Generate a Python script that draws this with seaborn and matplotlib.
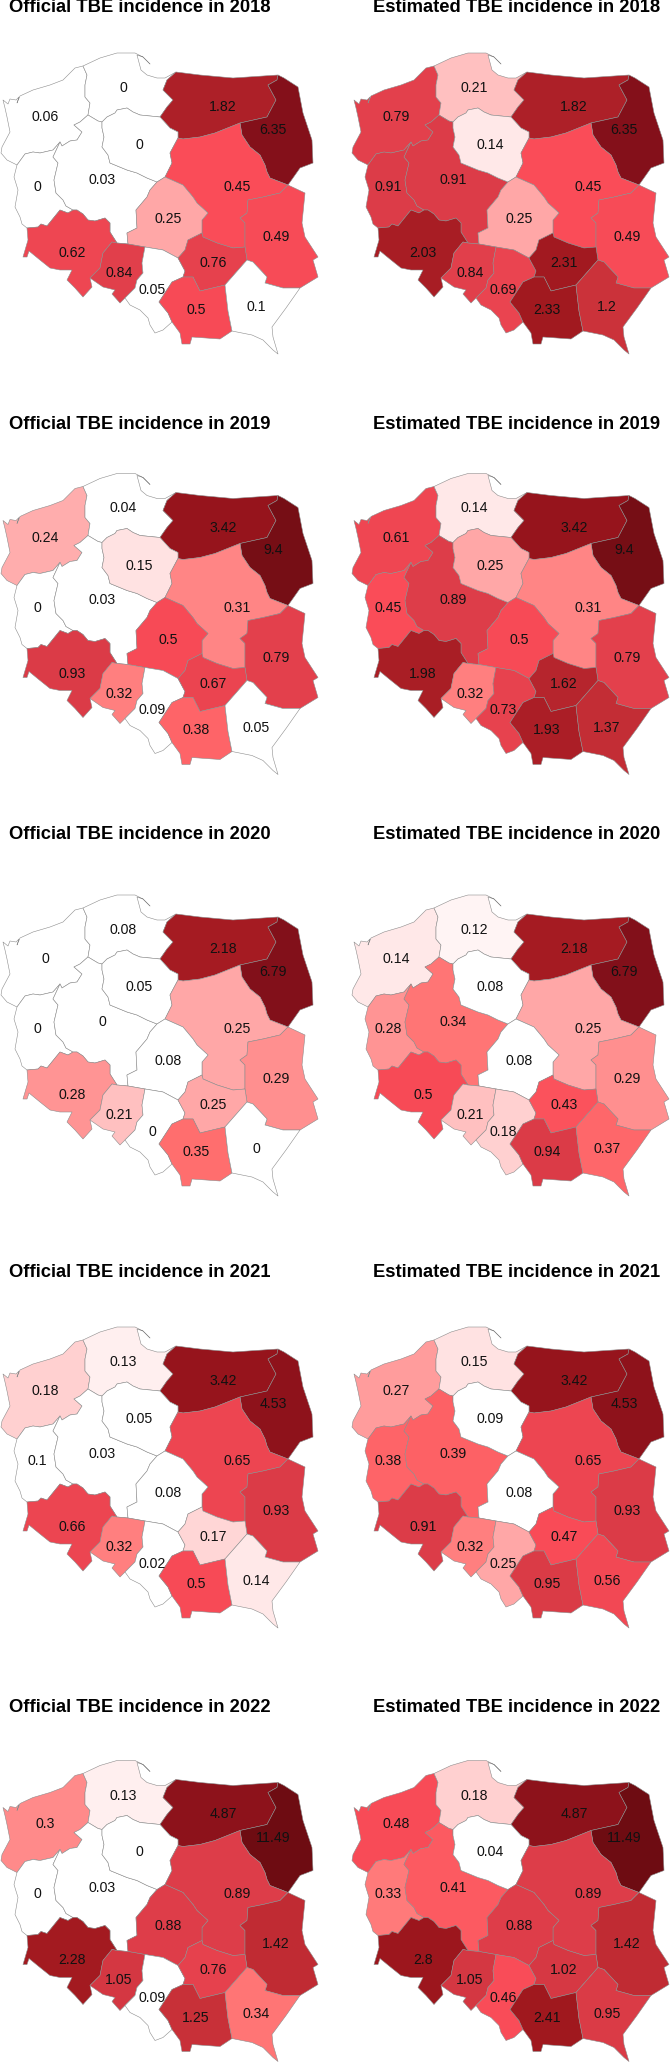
import matplotlib
matplotlib.use('Agg')
import matplotlib.pyplot as plt
from matplotlib.patches import Polygon
import numpy as np
import seaborn as sns

sns.set_style('white')
plt.rcParams['font.family'] = ['Liberation Sans', 'DejaVu Sans']

years = [2018, 2019, 2020, 2021, 2022]
regions = ['ZP', 'Pom', 'WM', 'Podl', 'Lub', 'Wlkp', 'KP', 'Maz', 'Lodz', 'Lubel', 'Dol', 'Opo', 'Sla', 'Swi', 'Mal', 'Pod']

official_2018 = [0.06, 0, 1.82, 6.35, 0, 0.03, 0, 0.45, 0.25, 0.49, 0.62, 0.84, 0.05, 0.76, 0.5, 0.1]
estimated_2018 = [0.79, 0.21, 1.82, 6.35, 0.91, 0.91, 0.14, 0.45, 0.25, 0.49, 2.03, 0.84, 0.69, 2.31, 2.33, 1.2]
official_2019 = [0.24, 0.04, 3.42, 9.4, 0, 0.03, 0.15, 0.31, 0.5, 0.79, 0.93, 0.32, 0.09, 0.67, 0.38, 0.05]
estimated_2019 = [0.61, 0.14, 3.42, 9.4, 0.45, 0.89, 0.25, 0.31, 0.5, 0.79, 1.98, 0.32, 0.73, 1.62, 1.93, 1.37]
official_2020 = [0, 0.08, 2.18, 6.79, 0, 0, 0.05, 0.25, 0.08, 0.29, 0.28, 0.21, 0, 0.25, 0.35, 0]
estimated_2020 = [0.14, 0.12, 2.18, 6.79, 0.28, 0.34, 0.08, 0.25, 0.08, 0.29, 0.5, 0.21, 0.18, 0.43, 0.94, 0.37]
official_2021 = [0.18, 0.13, 3.42, 4.53, 0.1, 0.03, 0.05, 0.65, 0.08, 0.93, 0.66, 0.32, 0.02, 0.17, 0.5, 0.14]
estimated_2021 = [0.27, 0.15, 3.42, 4.53, 0.38, 0.39, 0.09, 0.65, 0.08, 0.93, 0.91, 0.32, 0.25, 0.47, 0.95, 0.56]
official_2022 = [0.3, 0.13, 4.87, 11.49, 0, 0.03, 0, 0.89, 0.88, 1.42, 2.28, 1.05, 0.09, 0.76, 1.25, 0.34]
estimated_2022 = [0.48, 0.18, 4.87, 11.49, 0.33, 0.41, 0.04, 0.89, 0.88, 1.42, 2.8, 1.05, 0.46, 1.02, 2.41, 0.95]

official = [official_2018, official_2019, official_2020, official_2021, official_2022]
estimated = [estimated_2018, estimated_2019, estimated_2020, estimated_2021, estimated_2022]

# colour scale
stop_values = [0.10, 0.14, 0.25, 0.35, 0.45, 0.62, 0.91, 1.25, 1.82, 2.4, 3.42, 6.5, 11.49]
stop_colors = ['#ffffff', '#ffe8e8', '#ffa5a5', '#ff6e6e', '#fa4c58', '#ee4652', '#dc3c48',
               '#c83038', '#ad2028', '#a0181e', '#96141c', '#83101a', '#6e0c12']
cmap = sns.blend_palette(stop_colors, n_colors=256, as_cmap=True)
stop_pos = np.linspace(0, 1, len(stop_values))

# shared borders of the voivodeships, in pixels of the first panel
zp_coast = [(3, 100), (8, 104), (10, 99), (16, 100), (19, 97), (17, 103), (20, 96), (33, 90), (50, 85), (63, 80), (70, 73), (75, 68), (83, 66)]
zp_pom = [(83, 66), (87, 75), (86, 80), (85, 85), (85, 97), (90, 103), (88, 115)]
zp_wlkp = [(88, 115), (80, 122), (74, 125), (82, 132), (77, 140), (70, 141), (62, 146), (60, 142)]
zp_lub = [(60, 142), (53, 150), (40, 153), (33, 152), (25, 154), (17, 165)]
zp_west = [(17, 165), (7, 160), (1, 153), (2, 147), (10, 132), (7, 117), (5, 108), (3, 100)]
lub_wlkp = [(60, 142), (53, 157), (58, 163), (54, 180), (56, 193), (63, 200), (66, 206), (73, 210)]
lub_west = [(17, 165), (14, 177), (18, 190), (15, 207), (20, 217), (22, 224), (27, 228)]
lub_dol = [(27, 228), (38, 227), (41, 224), (47, 226), (60, 210), (68, 213), (73, 210)]
dol_wlkp = [(73, 210), (77, 210), (83, 214), (88, 220), (95, 221), (105, 218), (110, 223), (110, 232), (117, 243)]
dol_opo = [(117, 243), (112, 242), (103, 253), (100, 268), (90, 278)]
dol_south = [(27, 228), (28, 240), (23, 257), (27, 257), (29, 251), (40, 260), (50, 268), (60, 270), (72, 270), (67, 280), (75, 288), (83, 297), (92, 287), (90, 278)]
opo_wlkp = [(117, 243), (128, 244)]
opo_lodz = [(128, 244), (145, 247)]
opo_sla = [(145, 247), (142, 263), (143, 273), (137, 280), (135, 288), (125, 298)]
opo_south = [(90, 278), (103, 287), (115, 290), (112, 294), (120, 303), (125, 298)]
wlkp_lodz = [(128, 244), (127, 233), (137, 228), (136, 210), (147, 197), (150, 190), (157, 182)]
wlkp_kp = [(157, 182), (147, 178), (137, 173), (127, 170), (110, 163), (108, 155), (102, 147), (104, 137), (102, 128), (102, 122)]
wlkp_pom = [(102, 122), (98, 121), (88, 115)]
pom_coast = [(83, 66), (100, 58), (117, 53), (135, 53), (143, 57), (150, 64), (143, 57), (137, 55), (141, 70), (147, 75), (157, 78), (165, 78), (176, 72)]
pom_wm = [(176, 72), (167, 80), (163, 90), (173, 100), (167, 107), (160, 117)]
pom_kp = [(160, 117), (150, 116), (140, 115), (133, 112), (127, 108), (117, 110), (115, 113), (107, 117), (102, 122)]
kp_wm = [(160, 117), (170, 128), (178, 132), (178, 138)]
kp_maz = [(178, 138), (170, 153), (172, 163), (165, 177)]
kp_lodz = [(165, 177), (157, 182)]
wm_top = [(176, 72), (200, 75), (233, 78), (278, 75)]
wm_podl = [(278, 75), (277, 80), (268, 85), (276, 100), (267, 117), (240, 123)]
wm_maz = [(240, 123), (215, 133), (200, 137), (183, 139), (178, 138)]
podl_east = [(278, 75), (284, 78), (298, 87), (303, 113), (312, 140), (313, 163), (300, 168), (288, 185)]
podl_maz = [(240, 123), (242, 135), (250, 147), (260, 155), (265, 165), (267, 172), (270, 178), (288, 185)]
maz_lub = [(288, 185), (280, 193), (263, 197), (248, 200), (247, 213), (240, 218), (245, 223), (245, 247)]
maz_swi = [(245, 247), (233, 248), (217, 243), (203, 237), (202, 233)]
maz_lodz = [(202, 233), (202, 220), (208, 213), (197, 203), (193, 197), (183, 185), (165, 177)]
lodz_swi = [(178, 258), (185, 250), (188, 240), (202, 233)]
lodz_sla = [(145, 247), (163, 250), (178, 258)]
swi_sla = [(178, 258), (185, 271), (183, 277)]
swi_mal = [(183, 277), (193, 277), (200, 291), (225, 285)]
swi_pod = [(225, 285), (247, 260)]
swi_lub = [(247, 260), (245, 247)]
sla_mal = [(183, 277), (172, 282), (159, 302), (168, 313), (172, 322)]
sla_south = [(125, 298), (130, 305), (140, 310), (148, 318), (150, 325), (155, 333), (163, 330), (172, 322)]
mal_south = [(172, 322), (180, 333), (182, 344), (190, 344), (192, 337), (220, 339), (232, 331)]
mal_pod = [(225, 285), (228, 311), (232, 331)]
pod_lub = [(247, 260), (253, 262), (267, 277), (265, 283), (283, 288), (300, 288)]
pod_east = [(300, 288), (286, 308), (272, 327), (273, 337), (278, 354)]
pod_south = [(278, 354), (273, 350), (263, 340), (252, 335), (232, 331)]
lub_east = [(288, 185), (305, 193), (302, 223), (305, 237), (318, 257), (313, 260), (318, 277), (300, 288)]

def rev(arc):
    return arc[::-1]

shapes = {
    'ZP': zp_coast + zp_pom + zp_wlkp + zp_lub + zp_west,
    'Pom': pom_coast + pom_wm + pom_kp + wlkp_pom + rev(zp_pom),
    'WM': wm_top + wm_podl + wm_maz + rev(kp_wm) + rev(pom_wm),
    'Podl': podl_east + rev(podl_maz) + rev(wm_podl),
    'Lub': rev(zp_lub) + lub_wlkp + rev(lub_dol) + rev(lub_west),
    'Wlkp': wlkp_pom + zp_wlkp + lub_wlkp + dol_wlkp + opo_wlkp + wlkp_lodz + wlkp_kp,
    'KP': rev(pom_kp) + kp_wm + kp_maz + kp_lodz + wlkp_kp,
    'Maz': rev(wm_maz) + podl_maz + maz_lub + maz_swi + maz_lodz + rev(kp_maz),
    'Lodz': rev(wlkp_lodz) + opo_lodz + lodz_sla + lodz_swi + maz_lodz + kp_lodz,
    'Lubel': lub_east + rev(pod_lub) + swi_lub + rev(maz_lub),
    'Dol': lub_dol + dol_wlkp + dol_opo + rev(dol_south),
    'Opo': opo_wlkp + opo_lodz + opo_sla + rev(opo_south) + rev(dol_opo),
    'Sla': lodz_sla + swi_sla + sla_mal + rev(sla_south) + rev(opo_sla),
    'Swi': rev(lodz_swi) + swi_sla + swi_mal + swi_pod + swi_lub + maz_swi,
    'Mal': swi_mal + mal_pod + rev(mal_south) + rev(sla_mal),
    'Pod': swi_pod + pod_lub + pod_east + pod_south + rev(mal_pod),
}

label_pos = {
    'ZP': (45, 117), 'Pom': (123, 88), 'WM': (223, 107), 'Podl': (273, 130),
    'Lub': (37, 187), 'Wlkp': (102, 180), 'KP': (139, 145), 'Maz': (237, 187),
    'Lodz': (168, 219), 'Lubel': (276, 237), 'Dol': (72, 253), 'Opo': (119, 273),
    'Sla': (152, 290), 'Swi': (213, 263), 'Mal': (196, 310), 'Pod': (256, 307),
}

# row layout in the 671x2062 image (pixels)
W, H = 671, 2062
map_top = [52.5, 473, 894.5, 1326.5, 1760]
title_mid = [7.5, 424.6, 834.5, 1272.7, 1707]
panels = [('Official', official, 0, 9.4), ('Estimated', estimated, 351, 22.5)]
PANEL_W = 320
Y0, Y1 = 52, 355

fig = plt.figure(figsize=(W / 100, H / 100), dpi=100, facecolor='white')

for r, year in enumerate(years):
    for name, table, x0, title_x in panels:
        top = map_top[r] - (52.5 - Y0)
        ax = fig.add_axes([x0 / W, 1 - (top + (Y1 - Y0)) / H, PANEL_W / W, (Y1 - Y0) / H])
        ax.set_xlim(0, PANEL_W)
        ax.set_ylim(Y1, Y0)
        ax.axis('off')
        values = table[r]
        for reg, val in zip(regions, values):
            col = cmap(np.interp(val, stop_values, stop_pos))
            ax.add_patch(Polygon(shapes[reg], closed=True, facecolor=col, edgecolor='#8c8c8c',
                                 linewidth=0.4, joinstyle='round', clip_on=False))
        for reg, val in zip(regions, values):
            lx, ly = label_pos[reg]
            ax.text(lx, ly, f'{val:g}', ha='center', va='center', fontsize=10.2, color='#111111')
        ax.text(title_x, title_mid[r] - map_top[r] + 52.5, f'{name} TBE incidence in {year}',
                ha='left', va='center', fontsize=13.2, fontweight='bold', color='black', clip_on=False)

fig.savefig('out.png', dpi=100, facecolor='white')
